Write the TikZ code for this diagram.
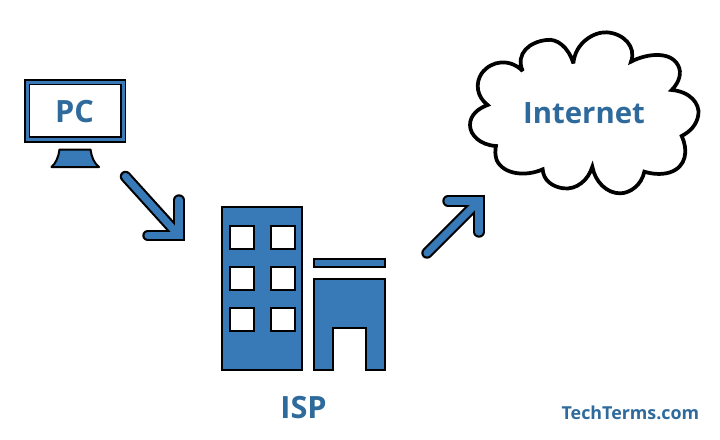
\documentclass[tikz,border=0pt]{standalone}
\usepackage{fontspec}
\usetikzlibrary{calc}
\setmainfont{Open Sans}
\definecolor{ttblue}{HTML}{377AB7}
\definecolor{tttext}{HTML}{2F6A9C}
\tikzset{
  iconpart/.style={draw=black,fill=ttblue,line width=1.5pt,line join=miter},
  windowpane/.style={draw=black,fill=white,line width=1.5pt},
  label/.style={text=tttext,font=\bfseries\fontsize{23pt}{27pt}\selectfont,inner sep=0pt,anchor=base},
  biglabel/.style={text=tttext,font=\bfseries\fontsize{22pt}{26pt}\selectfont,inner sep=0pt,anchor=base},
  footer/.style={text=tttext,font=\bfseries\fontsize{13.4pt}{16pt}\selectfont,inner sep=0pt,anchor=base east},
  arrowunder/.style={draw=black,line width=8.6pt,line cap=round,line join=miter},
  arrowover/.style={draw=ttblue,line width=5.4pt,line cap=round,line join=miter}
}
\begin{document}
\begin{tikzpicture}[x=0.75pt,y=-0.75pt]
\useasboundingbox (0,0) rectangle (720,439);
% monitor
\draw[iconpart,line width=1.3pt] (25,80) rectangle (125.5,142);
\draw[windowpane,line width=1.3pt] (29.5,84.5) rectangle (121,137);
\draw[iconpart,line join=round] (59.5,149.5) -- (90.5,149.5) .. controls (91.5,157) and (94,163) .. (99,167) -- (51.5,167) .. controls (56,163) and (58.5,157) .. (59.5,149.5) -- cycle;
\node[label] (pc) at (74.5,122.3) {PC};
% arrow 1
\coordinate (a1s) at (125.5,176.5);
\coordinate (a1c) at (179,235.5);
\coordinate (a1v) at (179,200);
\coordinate (a1h) at (148,235.5);
\draw[arrowunder] (a1s) -- ($(a1c)+(-3,-3.3)$);
\draw[arrowunder] (a1h) -- (a1c) -- (a1v);
\draw[arrowover] (a1s) -- ($(a1c)+(-1,-1)$);
\draw[arrowover] (a1h) -- (a1c) -- (a1v);
% building
\draw[iconpart] (221.5,207) rectangle (302,370);
\foreach \wy in {225.5,266.5,307.5}{
  \draw[windowpane] (229.5,\wy) rectangle (253.5,\wy+23.5);
  \draw[windowpane] (270.5,\wy) rectangle (294.5,\wy+23.5);
}
\draw[iconpart] (314,258.5) rectangle (385,267);
\draw[iconpart] (314,279) -- (385,279) -- (385,370) -- (366,370) -- (366,328) -- (333,328) -- (333,370) -- (314,370) -- cycle;
\node[label] (isp) at (303.5,418) {ISP};
% arrow 2
\coordinate (a2s) at (427,253);
\coordinate (a2c) at (479,201);
\coordinate (a2h) at (448,201);
\coordinate (a2v) at (479,232);
\draw[arrowunder] (a2s) -- ($(a2c)+(-3,3)$);
\draw[arrowunder] (a2h) -- (a2c) -- (a2v);
\draw[arrowover] (a2s) -- ($(a2c)+(-1,1)$);
\draw[arrowover] (a2h) -- (a2c) -- (a2v);
% cloud
\begin{scope}[shift={(460,10)},x=0.25pt,y=-0.25pt]
\draw[black,fill=white,line width=2.8pt,line join=miter,miter limit=4]
 (340,160) .. controls (345,100) and (400,65) .. (440,67) .. controls (490,70) and (530,110) .. (513,155)
 .. controls (560,130) and (640,120) .. (658,175) .. controls (665,200) and (650,225) .. (635,240)
 .. controls (690,245) and (720,280) .. (715,315) .. controls (710,345) and (690,365) .. (665,378)
 .. controls (685,420) and (680,470) .. (630,487) .. controls (605,495) and (575,492) .. (553,485)
 .. controls (545,525) and (510,550) .. (480,550) .. controls (440,550) and (405,515) .. (397,470)
 .. controls (385,510) and (350,540) .. (310,535) .. controls (275,530) and (250,510) .. (248,478)
 .. controls (200,500) and (130,495) .. (110,450) .. controls (105,435) and (105,420) .. (108,408)
 .. controls (60,405) and (30,375) .. (30,345) .. controls (30,315) and (55,295) .. (83,285)
 .. controls (50,260) and (45,220) .. (65,190) .. controls (95,150) and (150,145) .. (188,183)
 .. controls (165,130) and (210,95) .. (260,90) .. controls (290,85) and (325,110) .. (340,160) -- cycle;
\end{scope}
\node[biglabel] (inet) at (584,123.3) {Internet};
\node[footer] (brand) at (699.5,419.5) {TechTerms.com};
\end{tikzpicture}
\end{document}
